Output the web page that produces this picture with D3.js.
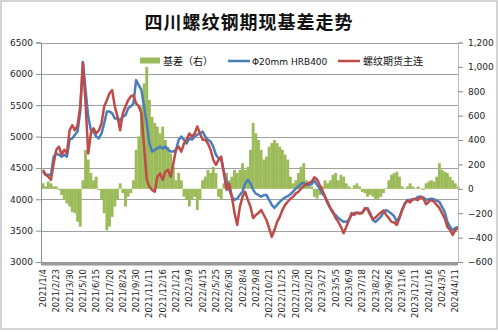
<!DOCTYPE html>
<html><head><meta charset="utf-8">
<script src="https://cdn.jsdelivr.net/npm/d3@7"></script>
<style>body{margin:0;background:#fff}svg{display:block}</style>
</head><body><svg id="c" width="498" height="332"></svg>
<script>
const title = "四川螺纹钢期现基差走势";
const tickLabels = ["2021/1/4","2021/2/23","2021/3/30","2021/5/10","2021/6/15","2021/7/20","2021/8/24","2021/9/30","2021/11/11","2021/12/16","2022/1/21","2022/3/9","2022/4/15","2022/5/25","2022/6/30","2022/8/4","2022/9/8","2022/10/21","2022/11/25","2022/12/30","2023/2/20","2023/3/27","2023/5/5","2023/6/9","2023/7/18","2023/8/22","2023/9/26","2023/11/6","2023/12/11","2024/1/16","2024/3/5","2024/4/11"];
const tickEvery = 5;
const seriesNames = ["基差（右）","Φ20mm HRB400","螺纹期货主连"];
const spot = [4440,4390,4390,4390,4680,4730,4710,4680,4710,4680,4950,4970,5030,5080,5400,6190,5740,5320,5100,5080,5000,4970,5050,5210,5400,5400,5370,5290,5290,5260,5320,5340,5450,5480,5530,5900,5820,5740,5480,5210,4890,4760,4790,4810,4840,4810,4840,4790,4760,4760,4790,4950,5000,4950,4890,4970,4950,5000,5030,5050,5080,5000,4950,4920,4840,4710,4650,4630,4440,4280,4150,4040,3990,4010,4070,4120,4250,4310,4250,4150,4090,4070,4040,4070,4070,3990,3910,3860,3910,3960,4000,4030,4050,4080,4120,4170,4200,4250,4260,4230,4230,4240,4300,4230,4170,4090,4040,3930,3860,3780,3750,3700,3670,3640,3640,3670,3750,3780,3780,3780,3790,3840,3860,3780,3670,3640,3680,3720,3790,3830,3800,3770,3730,3640,3720,3830,3930,3990,3990,4000,4010,4040,4040,4030,3990,4000,4010,4000,3980,3960,3880,3800,3640,3560,3510,3540,3560];
const futures = [4470,4390,4360,4310,4570,4790,4840,4710,4790,4730,5100,5180,5100,5180,5480,6170,5530,4730,5050,5130,5050,5100,5210,5480,5580,5690,5740,5480,5320,5100,5370,5480,5580,5640,5660,5530,5480,5370,4840,4310,4200,4150,4120,4360,4410,4310,4440,4470,4360,4570,4790,4840,4760,4890,4950,5050,5000,5050,5160,5050,4950,4950,4890,4790,4630,4550,4630,4680,4410,4150,4250,4040,3780,3590,3880,4040,4120,3990,3880,3700,3750,3780,3830,3750,3670,3540,3400,3510,3640,3720,3830,3910,3960,4010,4040,4090,4120,4170,4210,4240,4260,4280,4350,4320,4230,4150,4040,3960,3860,3800,3700,3640,3560,3460,3560,3670,3780,3750,3790,3770,3780,3860,3840,3750,3680,3710,3750,3790,3820,3750,3700,3640,3630,3590,3700,3830,3930,3980,3950,4000,4000,3990,4040,4010,3920,3960,3990,3960,3910,3860,3780,3700,3560,3510,3430,3510,3540];
const basis = [45,20,60,45,20,20,-10,-50,-90,-120,-145,-190,-200,-270,-310,70,320,240,130,70,100,-10,-90,-200,-340,-310,-230,-145,-90,45,-35,-145,-65,-35,70,320,430,675,865,1000,730,590,540,510,455,510,400,345,290,180,70,130,70,-65,-90,-145,-90,-65,-175,-90,70,100,155,130,180,130,-65,-90,45,130,70,100,155,130,155,210,155,180,320,540,455,400,320,240,265,345,375,400,375,345,320,280,240,100,45,70,130,180,210,70,30,20,-65,-80,-50,20,70,45,70,115,130,70,115,100,45,20,5,30,45,20,-25,-35,-65,-50,-65,-90,-80,-65,-35,5,70,115,130,140,100,20,5,20,45,20,5,20,5,-10,45,60,70,60,100,210,155,140,130,100,70,45,20];
const leftTicks = [3000,3500,4000,4500,5000,5500,6000,6500];
const rightTicks = [-600,-400,-200,0,200,400,600,800,1000,1200];
const colors = {basis:"#9bbb59", spot:"#4a7ebb", fut:"#be4b48"};

const svg = d3.select("#c");
const L = 41, R = 458, T = 42.5, B = 262;
const N = spot.length;
const x = d3.scaleLinear().domain([0, N-1]).range([43, 458]);
const yL = d3.scaleLinear().domain([3000, 6500]).range([B, T]);
const yR = d3.scaleLinear().domain([-600, 1200]).range([B, T]);

// outer border
svg.append("rect").attr("x",1).attr("y",1).attr("width",496).attr("height",328)
  .attr("fill","#fff").attr("stroke","#c6c6c6").attr("stroke-width",1.5);

// title
svg.append("text").attr("x",249).attr("y",29).attr("text-anchor","middle")
  .attr("font-family","'Noto Sans CJK SC'").attr("font-weight","bold")
  .attr("font-size",18).attr("letter-spacing",1).attr("fill","#111").text(title);

// gridlines
svg.append("g").selectAll("line").data(leftTicks).join("line")
  .attr("x1",L).attr("x2",R).attr("y1",d=>Math.round(yL(d))+0.5).attr("y2",d=>Math.round(yL(d))+0.5)
  .attr("stroke","#a0a0a0").attr("stroke-width",1);

// basis bars
const bw = (x(1)-x(0))+0.2;
svg.append("g").selectAll("rect").data(basis).join("rect")
  .attr("x",(d,i)=>x(i)-bw/2).attr("width",bw)
  .attr("y",d=>Math.min(yR(d),yR(0))).attr("height",d=>Math.abs(yR(d)-yR(0)))
  .attr("fill",colors.basis);

// lines
const line = arr => d3.line().x((d,i)=>x(i)).y(d=>yL(d))(arr);
svg.append("path").attr("d",line(spot)).attr("fill","none").attr("stroke",colors.spot).attr("stroke-width",2.5).attr("stroke-linejoin","round");
svg.append("path").attr("d",line(futures)).attr("fill","none").attr("stroke",colors.fut).attr("stroke-width",2.5).attr("stroke-linejoin","round");

// left axis
const gL = svg.append("g").attr("transform",`translate(${L},0)`)
  .call(d3.axisLeft(yL).tickValues(leftTicks).tickSize(5).tickFormat(d3.format("d")));
gL.select(".domain").attr("stroke","#8c8c8c");
gL.selectAll(".tick line").attr("stroke","#8c8c8c");
gL.selectAll("text").attr("font-family","'DejaVu Sans'").attr("font-size",9).attr("fill","#222").attr("x",-8);

// right axis
const gR = svg.append("g").attr("transform",`translate(${R},0)`)
  .call(d3.axisRight(yR).tickValues(rightTicks).tickSize(5).tickFormat(d3.format(",")));
gR.select(".domain").attr("stroke","#bdbdbd");
gR.selectAll(".tick line").attr("stroke","#8c8c8c");
gR.selectAll("text").attr("font-family","'DejaVu Sans'").attr("font-size",9).attr("fill","#222").attr("x",10);

// bottom axis bar
svg.append("rect").attr("x",L).attr("y",B).attr("width",R-L).attr("height",3.5).attr("fill","#9a9a9a");

// x labels
svg.append("g").selectAll("text").data(tickLabels).join("text")
  .attr("transform",(d,i)=>`translate(${x(i*tickEvery)+3},269) rotate(-90)`)
  .attr("text-anchor","end").attr("font-family","'DejaVu Sans'").attr("font-size",8.5).attr("fill","#222")
  .text(d=>d);

// legend
const lg = svg.append("g").attr("font-family","'Noto Sans CJK SC'").attr("font-size",10).attr("fill","#111");
lg.append("rect").attr("x",140).attr("y",57.5).attr("width",20).attr("height",6).attr("fill",colors.basis);
lg.append("text").attr("x",163).attr("y",64.5).text(seriesNames[0]);
lg.append("line").attr("x1",228).attr("x2",250).attr("y1",61).attr("y2",61).attr("stroke",colors.spot).attr("stroke-width",2.5);
lg.append("text").attr("x",252).attr("y",64.5).attr("font-family","'DejaVu Sans'").attr("font-size",9).text(seriesNames[1]);
lg.append("line").attr("x1",338).attr("x2",360).attr("y1",61).attr("y2",61).attr("stroke",colors.fut).attr("stroke-width",2.5);
lg.append("text").attr("x",363).attr("y",64.5).text(seriesNames[2]);
</script></body></html>
